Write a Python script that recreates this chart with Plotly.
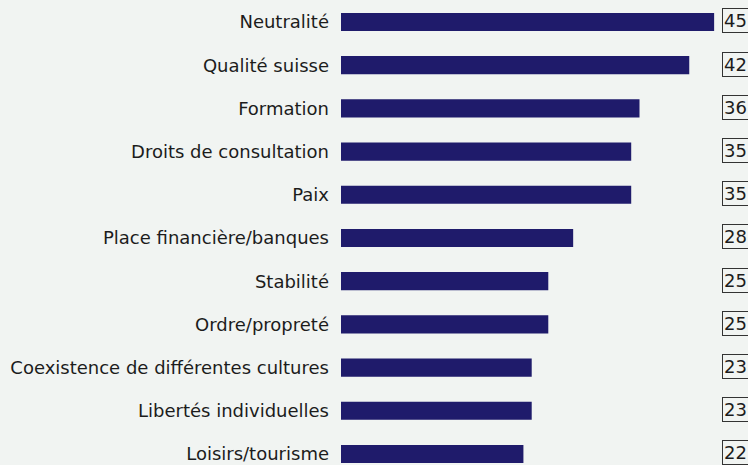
import plotly.graph_objects as go

categories = [
    "Neutralité",
    "Qualité suisse",
    "Formation",
    "Droits de consultation",
    "Paix",
    "Place financière/banques",
    "Stabilité",
    "Ordre/propreté",
    "Coexistence de différentes cultures",
    "Libertés individuelles",
    "Loisirs/tourisme",
]
values = [45, 42, 36, 35, 35, 28, 25, 25, 23, 23, 22]

BAR = "#1f1b6b"
BG = "#f1f4f2"
TXT = "#1c1c1c"
FONT = "DejaVu Sans, Liberation Sans, Arial, sans-serif"

fig = go.Figure(
    go.Bar(
        x=values,
        y=categories,
        orientation="h",
        marker=dict(color=BAR, line=dict(width=0)),
        width=0.42,
        hoverinfo="skip",
    )
)

for c, v in zip(categories, values):
    fig.add_annotation(
        x=46, y=c, xref="x", yref="y",
        text=str(v), showarrow=False,
        xanchor="left", yanchor="middle", yshift=1,
        width=26, align="left",
        bordercolor="#333333", borderwidth=1, borderpad=1,
        font=dict(size=18, color=TXT, family=FONT),
    )

fig.update_layout(
    width=748, height=465,
    margin=dict(l=341, r=9, t=0, b=0),
    paper_bgcolor=BG, plot_bgcolor=BG,
    showlegend=False,
    font=dict(family=FONT, size=18, color=TXT),
    xaxis=dict(range=[0, 48], visible=False, showgrid=False, zeroline=False),
    yaxis=dict(
        categoryorder="array", categoryarray=categories,
        range=[10.255, -0.509],
        showgrid=False, zeroline=False, showline=False,
        ticks="", ticklabelstandoff=11,
        tickfont=dict(size=18, color=TXT, family=FONT),
    ),
)

fig.write_html(
    "out.html",
    config={"displayModeBar": False},
    post_script="document.body.style.margin='0';document.body.style.background='%s';" % BG,
)
